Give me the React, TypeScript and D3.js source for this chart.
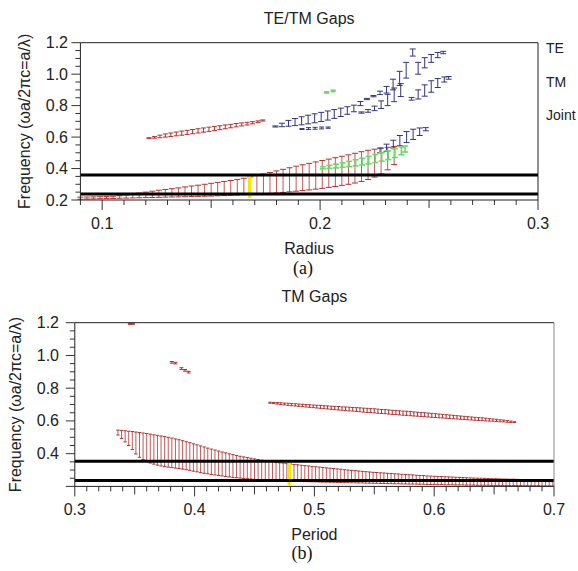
import React from 'react';
import * as d3 from 'd3';

type Bar = [number, number, number]; // [x, low, high]

// ---------- (a) TE/TM Gaps vs Radius ----------
const aTitle = 'TE/TM Gaps';
const aXTicks = [0.1, 0.2, 0.3];
const aYTicks = [0.2, 0.4, 0.6, 0.8, 1.0, 1.2];
const aLegend = ['TE', 'TM', 'Joint'];
const aRefLines = [0.359, 0.238];

const aRedLow: Bar[] = [
  [0.090, 0.205, 0.218], [0.093, 0.206, 0.219], [0.096, 0.207, 0.220], [0.099, 0.208, 0.221],
  [0.102, 0.209, 0.222], [0.105, 0.210, 0.224], [0.108, 0.211, 0.227], [0.111, 0.212, 0.232],
  [0.114, 0.213, 0.238], [0.117, 0.214, 0.244], [0.120, 0.215, 0.250], [0.123, 0.216, 0.256],
  [0.126, 0.217, 0.262], [0.129, 0.218, 0.267], [0.132, 0.219, 0.272], [0.135, 0.220, 0.277],
  [0.138, 0.221, 0.283], [0.141, 0.222, 0.289], [0.144, 0.223, 0.294], [0.147, 0.224, 0.300],
  [0.150, 0.225, 0.306], [0.153, 0.227, 0.312], [0.156, 0.228, 0.318], [0.159, 0.230, 0.324],
  [0.162, 0.232, 0.331], [0.165, 0.234, 0.338], [0.168, 0.236, 0.347], [0.171, 0.238, 0.356],
  [0.174, 0.240, 0.365], [0.177, 0.242, 0.375], [0.180, 0.245, 0.385], [0.183, 0.248, 0.395],
  [0.186, 0.252, 0.405], [0.189, 0.256, 0.415], [0.192, 0.260, 0.424], [0.195, 0.264, 0.433],
  [0.198, 0.269, 0.442], [0.201, 0.274, 0.451], [0.204, 0.280, 0.460], [0.207, 0.286, 0.469],
  [0.210, 0.293, 0.478], [0.213, 0.300, 0.487], [0.216, 0.308, 0.497], [0.219, 0.318, 0.507],
  [0.222, 0.330, 0.516], [0.225, 0.346, 0.523], [0.228, 0.366, 0.530], [0.231, 0.392, 0.535],
  [0.234, 0.425, 0.540],
];

const aRedHigh: Bar[] = [
  [0.1215, 0.590, 0.596], [0.1240, 0.593, 0.603], [0.1265, 0.596, 0.612], [0.1290, 0.600, 0.620],
  [0.1315, 0.604, 0.626], [0.1340, 0.608, 0.632], [0.1365, 0.612, 0.638], [0.1390, 0.617, 0.643],
  [0.1415, 0.621, 0.648], [0.1440, 0.626, 0.653], [0.1465, 0.631, 0.658], [0.1490, 0.636, 0.663],
  [0.1515, 0.641, 0.668], [0.1540, 0.647, 0.672], [0.1565, 0.653, 0.677], [0.1590, 0.659, 0.681],
  [0.1615, 0.665, 0.686], [0.1640, 0.671, 0.690], [0.1665, 0.677, 0.694], [0.1690, 0.684, 0.698],
  [0.1715, 0.692, 0.703], [0.1737, 0.702, 0.709],
];

const aGreenLow: Bar[] = [
  [0.2013, 0.398, 0.412], [0.2043, 0.401, 0.420], [0.2073, 0.404, 0.428], [0.2103, 0.408, 0.437],
  [0.2133, 0.412, 0.446], [0.2163, 0.417, 0.456], [0.2193, 0.423, 0.466], [0.2223, 0.430, 0.477],
  [0.2253, 0.438, 0.489], [0.2283, 0.447, 0.501], [0.2313, 0.457, 0.513], [0.2343, 0.470, 0.526],
  [0.2373, 0.488, 0.537], [0.2390, 0.505, 0.543],
];
const aGreenHigh: Bar[] = [[0.2030, 0.880, 0.888], [0.2060, 0.889, 0.898]];

const aBlueSmall: Bar[] = [
  [0.1917, 0.648, 0.654], [0.1947, 0.648, 0.660], [0.1977, 0.650, 0.662],
  [0.2007, 0.652, 0.664], [0.2037, 0.656, 0.664],
];
const aBlueDiag: Bar[] = [
  [0.1795, 0.664, 0.671], [0.1825, 0.666, 0.688], [0.1855, 0.669, 0.706], [0.1885, 0.673, 0.718],
  [0.1915, 0.678, 0.729], [0.1945, 0.684, 0.739], [0.1975, 0.691, 0.748], [0.2005, 0.699, 0.757],
  [0.2035, 0.708, 0.766], [0.2065, 0.719, 0.775], [0.2095, 0.731, 0.784], [0.2125, 0.745, 0.793],
  [0.2155, 0.761, 0.803], [0.2185, 0.800, 0.826], [0.2215, 0.838, 0.846], [0.2245, 0.856, 0.864],
  [0.2275, 0.870, 0.892], [0.2305, 0.880, 0.922], [0.2335, 0.900, 0.968], [0.2365, 0.928, 1.018],
  [0.2395, 0.975, 1.075], [0.2425, 1.115, 1.160],
];
const aBlueUpperRight: Bar[] = [
  [0.2450, 1.000, 1.075], [0.2480, 1.040, 1.105], [0.2510, 1.075, 1.125],
  [0.2540, 1.105, 1.138], [0.2565, 1.130, 1.145],
];
const aBlueMid: Bar[] = [
  [0.2190, 0.752, 0.760], [0.2220, 0.758, 0.775], [0.2250, 0.768, 0.797], [0.2280, 0.782, 0.830],
  [0.2310, 0.800, 0.872], [0.2340, 0.825, 0.912], [0.2370, 0.858, 0.940],
];
const aBlueMidRight: Bar[] = [
  [0.2420, 0.835, 0.852], [0.2450, 0.842, 0.900], [0.2480, 0.860, 0.932], [0.2510, 0.885, 0.958],
  [0.2540, 0.915, 0.972], [0.2570, 0.950, 0.982], [0.2590, 0.968, 0.985],
];
const aBlueLow: Bar[] = [
  [0.2275, 0.500, 0.530], [0.2305, 0.510, 0.555], [0.2336, 0.530, 0.580], [0.2366, 0.545, 0.610],
  [0.2397, 0.565, 0.635], [0.2427, 0.585, 0.650], [0.2457, 0.610, 0.658], [0.2485, 0.640, 0.660],
];
const aYellow: Bar[] = [[0.1677, 0.224, 0.350]];

// ---------- (b) TM Gaps vs Period ----------
const bTitle = 'TM Gaps';
const bXTicks = [0.3, 0.4, 0.5, 0.6, 0.7];
const bYTicks = [0.4, 0.6, 0.8, 1.0, 1.2];
const bRefLines = [0.353, 0.236];

const bTop: Bar[] = [[0.3460, 1.190, 1.196], [0.3485, 1.190, 1.197]];
const bMid: Bar[] = [
  [0.3810, 0.953, 0.963], [0.3840, 0.948, 0.958], [0.3890, 0.914, 0.925],
  [0.3920, 0.904, 0.914], [0.3950, 0.893, 0.903],
];
const bUpper: Bar[] = [
  [0.463, 0.708, 0.714], [0.466, 0.706, 0.713], [0.469, 0.703, 0.712], [0.472, 0.700, 0.711],
  [0.475, 0.698, 0.709], [0.478, 0.695, 0.708], [0.481, 0.693, 0.706], [0.484, 0.691, 0.705],
  [0.487, 0.689, 0.703], [0.490, 0.687, 0.702], [0.493, 0.685, 0.700], [0.496, 0.683, 0.699],
  [0.499, 0.681, 0.697], [0.502, 0.679, 0.696], [0.505, 0.677, 0.695], [0.508, 0.675, 0.693],
  [0.511, 0.673, 0.692], [0.514, 0.671, 0.690], [0.517, 0.669, 0.689], [0.520, 0.667, 0.688],
  [0.523, 0.665, 0.686], [0.526, 0.663, 0.685], [0.529, 0.661, 0.684], [0.532, 0.660, 0.682],
  [0.535, 0.658, 0.681], [0.538, 0.656, 0.680], [0.541, 0.654, 0.678], [0.544, 0.652, 0.677],
  [0.547, 0.651, 0.675], [0.550, 0.649, 0.674], [0.553, 0.647, 0.672], [0.556, 0.645, 0.670],
  [0.559, 0.644, 0.669], [0.562, 0.642, 0.667], [0.565, 0.640, 0.665], [0.568, 0.639, 0.664],
  [0.571, 0.637, 0.662], [0.574, 0.635, 0.660], [0.577, 0.634, 0.659], [0.580, 0.632, 0.657],
  [0.583, 0.630, 0.655], [0.586, 0.629, 0.653], [0.589, 0.627, 0.651], [0.592, 0.626, 0.650],
  [0.595, 0.624, 0.648], [0.598, 0.622, 0.646], [0.601, 0.621, 0.644], [0.604, 0.619, 0.642],
  [0.607, 0.618, 0.640], [0.610, 0.616, 0.638], [0.613, 0.615, 0.636], [0.616, 0.613, 0.634],
  [0.619, 0.612, 0.632], [0.622, 0.610, 0.630], [0.625, 0.609, 0.628], [0.628, 0.607, 0.626],
  [0.631, 0.606, 0.624], [0.634, 0.604, 0.622], [0.637, 0.603, 0.620], [0.640, 0.602, 0.619],
  [0.643, 0.600, 0.617], [0.646, 0.599, 0.614], [0.649, 0.598, 0.612], [0.652, 0.596, 0.610],
  [0.655, 0.595, 0.607], [0.658, 0.594, 0.605], [0.661, 0.592, 0.602], [0.664, 0.591, 0.599],
  [0.667, 0.590, 0.595],
];
const bLower: Bar[] = [
  [0.336, 0.514, 0.544], [0.339, 0.493, 0.542], [0.342, 0.472, 0.540], [0.345, 0.450, 0.537],
  [0.348, 0.425, 0.535], [0.351, 0.398, 0.532], [0.354, 0.378, 0.529], [0.357, 0.363, 0.526],
  [0.360, 0.352, 0.523], [0.363, 0.343, 0.519], [0.366, 0.336, 0.515], [0.369, 0.330, 0.512],
  [0.372, 0.325, 0.508], [0.375, 0.321, 0.504], [0.378, 0.318, 0.500], [0.381, 0.315, 0.495],
  [0.384, 0.312, 0.490], [0.387, 0.309, 0.485], [0.390, 0.306, 0.479], [0.393, 0.302, 0.473],
  [0.396, 0.298, 0.467], [0.399, 0.293, 0.460], [0.402, 0.289, 0.454], [0.405, 0.284, 0.447],
  [0.408, 0.280, 0.441], [0.411, 0.277, 0.434], [0.414, 0.273, 0.428], [0.417, 0.270, 0.422],
  [0.420, 0.267, 0.416], [0.423, 0.264, 0.410], [0.426, 0.261, 0.405], [0.429, 0.258, 0.399],
  [0.432, 0.255, 0.394], [0.435, 0.253, 0.389], [0.438, 0.251, 0.384], [0.441, 0.249, 0.380],
  [0.444, 0.247, 0.376], [0.447, 0.245, 0.372], [0.450, 0.243, 0.368], [0.453, 0.242, 0.364],
  [0.456, 0.240, 0.360], [0.459, 0.239, 0.357], [0.462, 0.238, 0.353], [0.465, 0.237, 0.350],
  [0.468, 0.236, 0.347], [0.471, 0.235, 0.344], [0.474, 0.234, 0.342], [0.477, 0.233, 0.339],
  [0.480, 0.232, 0.337], [0.483, 0.231, 0.334], [0.486, 0.231, 0.332], [0.489, 0.230, 0.329],
  [0.492, 0.229, 0.327], [0.495, 0.229, 0.325], [0.498, 0.228, 0.322], [0.501, 0.228, 0.320],
  [0.504, 0.227, 0.318], [0.507, 0.226, 0.316], [0.510, 0.226, 0.313], [0.513, 0.225, 0.311],
  [0.516, 0.225, 0.309], [0.519, 0.224, 0.307], [0.522, 0.224, 0.305], [0.525, 0.223, 0.302],
  [0.528, 0.223, 0.300], [0.531, 0.222, 0.298], [0.534, 0.222, 0.296], [0.537, 0.221, 0.294],
  [0.540, 0.221, 0.292], [0.543, 0.220, 0.290], [0.546, 0.220, 0.288], [0.549, 0.219, 0.286],
  [0.552, 0.219, 0.285], [0.555, 0.218, 0.283], [0.558, 0.218, 0.282], [0.561, 0.217, 0.280],
  [0.564, 0.217, 0.279], [0.567, 0.216, 0.277], [0.570, 0.216, 0.276], [0.573, 0.215, 0.274],
  [0.576, 0.215, 0.273], [0.579, 0.214, 0.271], [0.582, 0.214, 0.270], [0.585, 0.214, 0.268],
  [0.588, 0.213, 0.267], [0.591, 0.213, 0.266], [0.594, 0.212, 0.264], [0.597, 0.212, 0.263],
  [0.600, 0.212, 0.262], [0.603, 0.211, 0.261], [0.606, 0.211, 0.260], [0.609, 0.210, 0.259],
  [0.612, 0.210, 0.258], [0.615, 0.210, 0.257], [0.618, 0.209, 0.256], [0.621, 0.209, 0.255],
  [0.624, 0.209, 0.254], [0.627, 0.208, 0.253], [0.630, 0.208, 0.252], [0.633, 0.208, 0.251],
  [0.636, 0.207, 0.250], [0.639, 0.207, 0.250], [0.642, 0.207, 0.249], [0.645, 0.207, 0.248],
  [0.648, 0.206, 0.247], [0.651, 0.206, 0.247], [0.654, 0.206, 0.246], [0.657, 0.206, 0.245],
  [0.660, 0.205, 0.245], [0.663, 0.205, 0.244], [0.666, 0.205, 0.244], [0.669, 0.205, 0.243],
  [0.672, 0.205, 0.242], [0.675, 0.204, 0.242], [0.678, 0.204, 0.241], [0.681, 0.204, 0.241],
  [0.684, 0.204, 0.240], [0.687, 0.204, 0.240], [0.690, 0.203, 0.240], [0.693, 0.203, 0.239],
  [0.696, 0.203, 0.239], [0.699, 0.203, 0.239],
];
const bYellow: Bar[] = [[0.479, 0.218, 0.343]];

const RED = '#b32f2f';
const BLUE = '#34347e';
const GREEN = '#6bd86b';
const YELLOW = '#f3e800';
const SANS = '"Liberation Sans", Arial, sans-serif';
const SERIF = '"Liberation Serif", "Times New Roman", serif';

type Lin = d3.ScaleLinear<number, number>;

function ErrorBars({ data, x, y, color, cap, width = 1, vOpacity = 1 }:
  { data: Bar[]; x: Lin; y: Lin; color: string; cap: number; width?: number; vOpacity?: number }) {
  return (
    <g stroke={color} strokeWidth={width} fill="none">
      {data.map(([xv, lo, hi], i) => {
        const px = x(xv), y0 = y(lo), y1 = y(hi);
        return (
          <g key={i}>
            <line x1={px} x2={px} y1={y0} y2={y1} strokeOpacity={vOpacity} />
            <line x1={px - cap / 2} x2={px + cap / 2} y1={y0} y2={y0} />
            <line x1={px - cap / 2} x2={px + cap / 2} y1={y1} y2={y1} />
          </g>
        );
      })}
    </g>
  );
}

function Frame({ x, y, xMajor, yMajor, xLabel, yLabel, title, yLabelX, xTickY, xLabelY, titleY,
  yTickX, rightColor }:
  { x: Lin; y: Lin; xMajor: number[]; yMajor: number[]; xLabel: string; yLabel: string; title: string;
    yLabelX: number; xTickY: number; xLabelY: number; titleY: number; yTickX: number; rightColor: string }) {
  const [x0, x1] = x.range();
  const [yb, yt] = y.range();
  const [dx0, dx1] = x.domain();
  const [dy0, dy1] = y.domain();
  const xMinor = d3.range(Math.round(dx0 * 100), Math.round(dx1 * 100) + 1).map((v) => v / 100);
  const yMinor = d3.range(Math.round(dy0 * 20), Math.round(dy1 * 20) + 1).map((v) => v / 20);
  const isMajor = (v: number, arr: number[]) => arr.some((m) => Math.abs(m - v) < 1e-6);
  const cx = (x0 + x1) / 2;
  return (
    <g fontFamily={SANS} fill="#222">
      {/* minor/major x ticks */}
      <g stroke="#333" strokeWidth={1}>
        {xMinor.map((v, i) => {
          const major = isMajor(v, xMajor);
          const mid = !major && Math.abs(Math.round(v * 20) - v * 20) < 1e-6;
          const len = major ? 10 : mid ? 8 : 5;
          return <line key={i} x1={x(v)} x2={x(v)} y1={yb} y2={yb + len} />;
        })}
        {yMinor.map((v, i) => {
          const major = Math.abs(Math.round(v * 5) - v * 5) < 1e-6;
          const len = major ? 9 : 5;
          return <line key={i} x1={x0 - len} x2={x0} y1={y(v)} y2={y(v)} />;
        })}
      </g>
      <line x1={x0} x2={x1} y1={yt} y2={yt} stroke="#222" />
      <line x1={x0} x2={x0} y1={yt} y2={yb} stroke="#222" />
      <line x1={x0} x2={x1} y1={yb} y2={yb} stroke="#222" />
      <line x1={x1} x2={x1} y1={yt} y2={yb} stroke={rightColor} />
      {xMajor.map((v) => (
        <text key={v} x={x(v)} y={xTickY} textAnchor="middle" fontSize={16}>{v.toFixed(1)}</text>
      ))}
      {yMajor.map((v) => (
        <text key={v} x={yTickX} y={y(v)} textAnchor="end" dominantBaseline="central" fontSize={16}>{v.toFixed(1)}</text>
      ))}
      <text x={cx} y={xLabelY} textAnchor="middle" fontSize={16}>{xLabel}</text>
      <text x={cx} y={titleY} textAnchor="middle" fontSize={16}>{title}</text>
      <text transform={`translate(${yLabelX},${(yt + yb) / 2}) rotate(-90)`} textAnchor="middle"
        dominantBaseline="central" fontSize={16}>{yLabel}</text>
    </g>
  );
}

function RefLines({ values, x, y }: { values: number[]; x: Lin; y: Lin }) {
  const [x0, x1] = x.range();
  return (
    <g stroke="#000" strokeWidth={3}>
      {values.map((v) => <line key={v} x1={x0} x2={x1} y1={y(v)} y2={y(v)} />)}
    </g>
  );
}

export default function App() {
  const ax = d3.scaleLinear().domain([0.09, 0.3]).range([80.4, 538]);
  const ay = d3.scaleLinear().domain([0.2, 1.2]).range([200, 42.7]);
  const bx = d3.scaleLinear().domain([0.3, 0.7]).range([74.8, 554]);
  const by = d3.scaleLinear().domain([0.2, 1.2]).range([486.4, 322.7]);
  const yLab = 'Frequency (\u03c9a/2\u03c0c=a/\u03bb)';
  return (
    <svg width={578} height={571} style={{ position: 'absolute', left: 0, top: 0, background: '#fff' }}>
      <rect width={578} height={571} fill="#fff" />
      {/* Panel (a) */}
      <ErrorBars data={aRedLow} x={ax} y={ay} color={RED} cap={6} vOpacity={0.8} />
      <ErrorBars data={aRedHigh} x={ax} y={ay} color={RED} cap={5} />
      <ErrorBars data={aBlueSmall} x={ax} y={ay} color={BLUE} cap={5} />
      <ErrorBars data={aBlueDiag} x={ax} y={ay} color={BLUE} cap={6} />
      <ErrorBars data={aBlueUpperRight} x={ax} y={ay} color={BLUE} cap={6} />
      <ErrorBars data={aBlueMid} x={ax} y={ay} color={BLUE} cap={6} />
      <ErrorBars data={aBlueMidRight} x={ax} y={ay} color={BLUE} cap={6} />
      <ErrorBars data={aBlueLow} x={ax} y={ay} color={BLUE} cap={6} />
      <ErrorBars data={aGreenLow} x={ax} y={ay} color={GREEN} cap={6} width={1.6} />
      <ErrorBars data={aGreenHigh} x={ax} y={ay} color={GREEN} cap={5} width={1.6} />
      <ErrorBars data={aYellow} x={ax} y={ay} color={YELLOW} cap={3} width={3.5} />
      <RefLines values={aRefLines} x={ax} y={ay} />
      <Frame x={ax} y={ay} xMajor={aXTicks} yMajor={aYTicks} xLabel="Radius" yLabel={yLab} title={aTitle}
        yLabelX={24} xTickY={229} xLabelY={254} titleY={24} yTickX={68} rightColor="#222" />
      <g fontFamily={SANS} fontSize={14} fill="#222">
        {aLegend.map((t, i) => (
          <text key={t} x={546} y={48 + i * 33.5} dominantBaseline="central">{t}</text>
        ))}
      </g>
      <text x={303} y={274} textAnchor="middle" fontFamily={SERIF} fontSize={18} fill="#111">(a)</text>

      {/* Panel (b) */}
      <ErrorBars data={bTop} x={bx} y={by} color={RED} cap={4} />
      <ErrorBars data={bMid} x={bx} y={by} color={RED} cap={4} />
      <ErrorBars data={bUpper} x={bx} y={by} color={RED} cap={3.4} />
      <ErrorBars data={bLower} x={bx} y={by} color={RED} cap={3.4} vOpacity={0.8} />
      <ErrorBars data={bYellow} x={bx} y={by} color={YELLOW} cap={3} width={3.5} />
      <RefLines values={bRefLines} x={bx} y={by} />
      <Frame x={bx} y={by} xMajor={bXTicks} yMajor={bYTicks} xLabel="Period" yLabel={yLab} title={bTitle}
        yLabelX={15} xTickY={515} xLabelY={540} titleY={302} yTickX={59} rightColor="#888" />
      <text x={302} y={559} textAnchor="middle" fontFamily={SERIF} fontSize={18} fill="#111">(b)</text>
    </svg>
  );
}
